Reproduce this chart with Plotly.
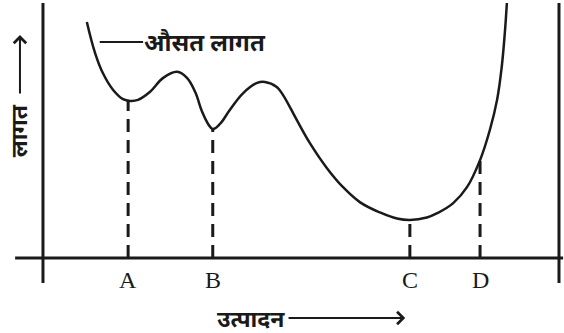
import plotly.graph_objects as go

# average cost curve (output units 0-100, cost units 0-100)
output_qty = [8.5, 10.1, 11.6, 13.6, 15.5, 16.9, 18.4, 20.7, 23.3, 26.0, 27.9, 29.5,
              30.8, 32.0, 32.9, 34.3, 36.2, 38.8, 41.5, 43.0, 45.3, 46.5, 49.2, 51.7,
              55.0, 58.1, 61.4, 65.3, 68.6, 71.1, 74.4, 76.4, 79.5, 82.2, 84.7, 86.6,
              88.0, 88.9, 89.5, 89.9]
avg_cost = [93.3, 81.0, 73.1, 66.4, 62.8, 62.1, 62.5, 65.6, 71.2, 73.6, 71.2, 65.6,
            58.0, 53.0, 51.0, 53.0, 58.5, 65.2, 69.2, 69.6, 67.6, 64.5, 54.5, 45.5,
            35.6, 28.1, 22.1, 18.0, 15.6, 15.0, 16.0, 17.7, 21.7, 28.1, 38.7, 50.6,
            62.5, 75.5, 88.9, 100.8]

point_labels = ["A", "B", "C", "D"]
point_x = [16.5, 32.9, 71.1, 84.7]
point_y = [62.1, 51.0, 15.0, 38.7]

X_MAX = 100
Y_TOP = 100.8

HINDI = "Noto Sans, Noto Sans Devanagari, sans-serif"
INK = "#1a1a1a"

fig = go.Figure()

fig.add_trace(go.Scatter(
    x=output_qty, y=avg_cost, mode="lines",
    line=dict(color=INK, width=2.5, shape="spline", smoothing=1.1),
    hoverinfo="skip"
))

for px_, py_ in zip(point_x, point_y):
    fig.add_trace(go.Scatter(
        x=[px_, px_], y=[0, py_], mode="lines",
        line=dict(color=INK, width=3, dash="13px,8px"),
        hoverinfo="skip"
    ))

# frame lines
fig.add_shape(type="line", x0=0, x1=0, y0=-9.9, y1=Y_TOP,
              line=dict(color=INK, width=3))
fig.add_shape(type="line", x0=X_MAX, x1=X_MAX, y0=-9.9, y1=Y_TOP,
              line=dict(color=INK, width=3))
fig.add_shape(type="line", x0=-5.4, x1=X_MAX + 0.8, y0=0, y1=0,
              line=dict(color=INK, width=3))

for lab, px_ in zip(point_labels, point_x):
    fig.add_annotation(x=px_, y=-8.7, text=lab, showarrow=False,
                       font=dict(family="Liberation Serif", size=24, color=INK))

# curve label
fig.add_shape(type="line", x0=11.0, x1=19.4, y0=85.4, y1=85.4,
              line=dict(color=INK, width=2))
fig.add_annotation(x=19.2, y=85.4, text="<b>औसत लागत</b>", showarrow=False,
                   xanchor="left", font=dict(family=HINDI, size=24, color=INK))

# y axis title + arrow
fig.add_annotation(x=-4.8, y=50.2, text="<b>लागत</b>", showarrow=False,
                   textangle=-90, font=dict(family=HINDI, size=23, color=INK))
fig.add_annotation(x=-4.46, y=88.1, ax=-4.46, ay=64.4, axref="x", ayref="y",
                   text="", showarrow=True, arrowhead=4, arrowsize=1.2,
                   arrowwidth=2, arrowcolor=INK)

# x axis title + arrow
fig.add_annotation(x=47.3, y=-23.7, text="<b>उत्पादन</b>", showarrow=False,
                   xanchor="right", font=dict(family=HINDI, size=23, color=INK))
fig.add_annotation(x=70.2, y=-23.7, ax=47.3, ay=-23.7, axref="x", ayref="y",
                   text="", showarrow=True, arrowhead=4, arrowsize=1.2,
                   arrowwidth=2, arrowcolor=INK)

fig.update_xaxes(range=[-8.33, 100.97], visible=False)
fig.update_yaxes(range=[-29.64, 101.98], visible=False)
fig.update_layout(
    width=564, height=333,
    margin=dict(l=0, r=0, t=0, b=0),
    paper_bgcolor="white", plot_bgcolor="white",
    showlegend=False
)

fig.write_html(
    "out.html",
    config={"displayModeBar": False},
    post_script="document.body.style.margin='0';"
                "document.body.style.overflow='hidden';"
)
